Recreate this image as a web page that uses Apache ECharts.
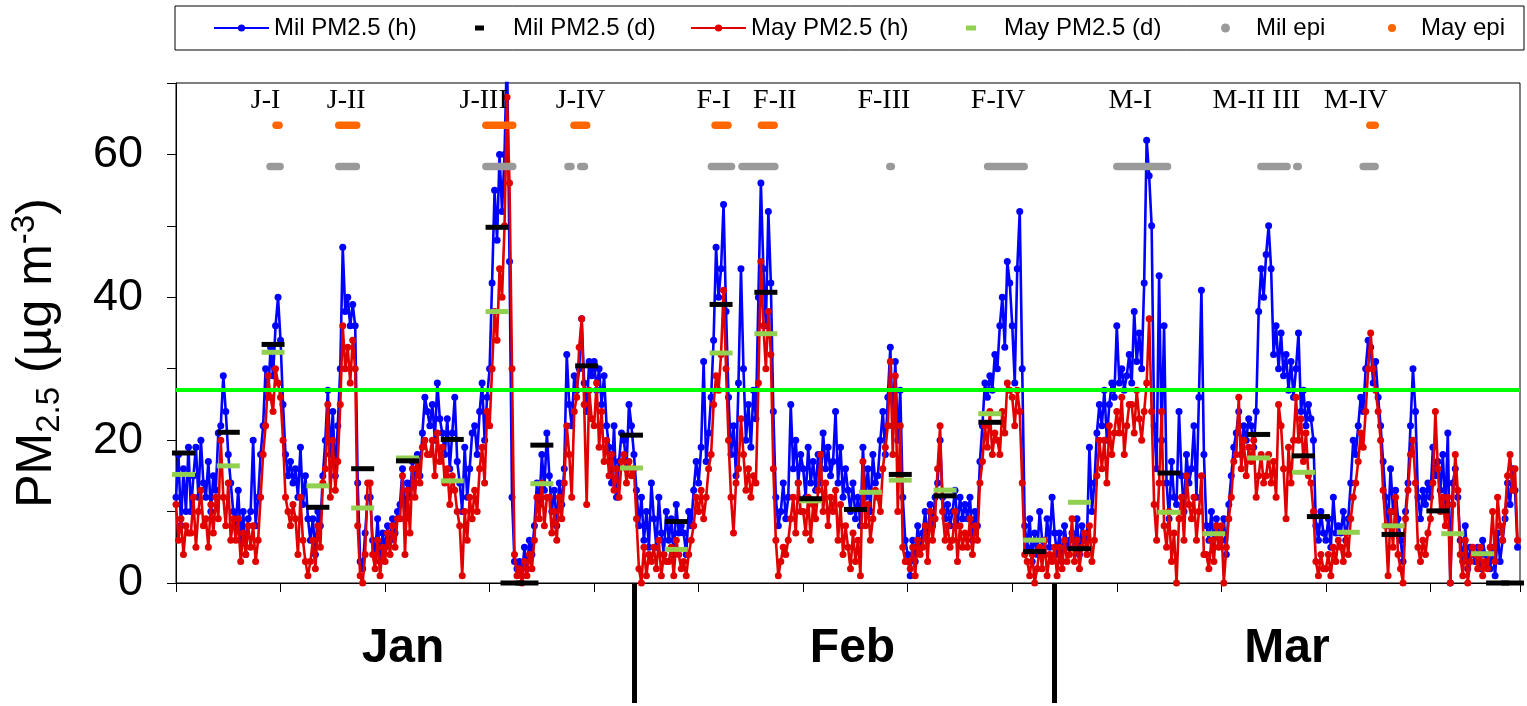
<!DOCTYPE html>
<html>
<head>
<meta charset="utf-8">
<script src="https://cdn.jsdelivr.net/npm/echarts@6/dist/echarts.min.js"></script>
<style>
html,body{margin:0;padding:0;background:#fff}
#chart{width:1527px;height:706px}
</style>
</head>
<body>
<div id="chart"></div>
<script>
// PM2.5 at Milan (Mil) and Maybe site (May), Jan–Mar, sampled every 4 hours (6 values per day)
const SAMPLES_PER_DAY = 6;

const milJan = [
  12,18,8,16,10,19, 10,15,19,12,20,14, 12,17,10,15,13,21, 22,29,24,18,14,10,
  8,13,6,10,4,9, 10,20,8,12,18,22, 30,26,33,29,36,40, 34,25,18,15,17,14,
  16,12,19,11,15,9, 6,9,4,10,8,15, 20,27,18,24,15,22, 30,47,38,40,36,39,
  36,14,3,2,7,12, 12,6,4,9,3,7, 5,8,6,9,7,10, 11,16,9,14,12,17,
  14,18,15,21,26,24, 22,25,20,28,23,21, 18,23,16,21,26,17, 14,10,19,12,16,21,
  22,18,24,28,20,26, 30,42,55,48,60,52, 60,75,45,12,3,2, 3,1,5,2,6,4,
  8,14,11,18,13,21, 15,10,13,8,14,11, 16,32,25,22,29,27, 30,37,28,24,31,29,
  31,27,30,25,29,22, 19,14,22,12,17,21, 20,16,25,22,18,13
];
const milFeb = [
  8,12,6,10,5,14, 9,5,12,7,4,10, 6,9,4,11,7,8, 7,4,10,8,13,17,
  14,19,31,17,21,26, 34,47,40,44,53,38, 26,18,22,15,28,44, 30,20,25,19,27,23,
  40,56,44,36,52,42, 24,12,8,10,14,9, 12,25,16,20,14,18, 16,12,19,14,17,13,
  18,14,21,16,19,15, 17,24,14,19,12,16, 13,10,14,9,12,8, 19,12,16,10,18,14,
  15,20,24,18,26,33, 22,31,20,27,12,6, 4,1,6,3,8,5, 7,10,6,11,8,12,
  14,20,12,9,11,8, 10,13,8,12,9,11, 9,12,6,10,8,17, 22,28,26,29,27,32,
  30,36,40,33,45,42, 36,28,44,52,30,8, 5,9,3,7,4,10, 6,4,9,5,12,7
];
const milMar = [
  4,7,3,8,5,6, 7,5,9,4,8,6, 6,19,10,14,21,25, 22,27,20,25,28,26,
  36,28,30,27,29,32, 28,38,31,35,30,42, 62,57,50,22,16,43, 20,36,14,9,17,12,
  11,24,15,10,18,14, 16,22,12,26,41,18, 8,6,10,5,9,7, 6,9,4,11,15,19,
  21,24,18,22,20,23, 22,19,24,38,44,40, 46,50,44,32,36,30, 35,29,32,27,31,26,
  30,35,24,27,22,25, 23,20,8,6,10,7, 6,9,5,12,7,8, 7,10,6,9,14,20,
  18,22,26,24,30,34, 33,28,31,26,22,17, 12,8,16,10,13,9, 6,3,10,14,22,30,
  24,12,9,13,11,14, 12,19,15,17,13,18, 10,21,0,14,16,12, 6,3,8,2,5,4,
  3,5,2,6,4,3, 2,5,1,7,3,6, 9,14,11,16,13,5
];

const mayJan = [
  11,6,9,4,8,7, 7,12,5,10,13,8, 9,5,11,7,12,9, 20,12,8,14,6,9,
  6,9,3,7,4,8, 5,8,3,6,12,18, 22,29,26,24,30,28, 26,20,12,10,8,11,
  9,4,12,6,3,1, 3,6,2,8,5,14, 16,25,12,20,13,17, 25,36,30,33,28,34,
  30,8,1,0,4,14, 14,4,2,6,1,5, 3,7,4,8,5,9, 9,15,4,13,7,16,
  12,17,14,19,20,18, 18,20,15,21,17,19, 14,16,11,15,13,10, 8,1,10,6,12,9,
  13,10,16,19,14,24, 22,30,38,34,44,40, 50,68,56,30,4,1, 2,0,3,1,4,2,
  6,12,9,14,8,12, 12,7,10,6,12,9, 14,22,18,12,24,26, 33,37,25,11,27,23,
  22,28,19,24,17,20, 15,18,13,16,12,17, 18,14,17,15,16,9
];
const mayFeb = [
  2,0,5,1,4,3, 5,2,6,1,4,3, 3,5,1,6,4,2, 3,1,4,6,8,12,
  10,13,9,12,16,18, 25,29,27,32,41,30, 20,12,7,14,16,23, 18,13,16,12,15,14,
  28,45,36,30,38,32, 16,6,1,3,5,4, 6,9,12,7,14,10, 10,7,12,6,11,9,
  13,18,10,14,8,12, 10,13,6,11,4,8, 5,2,7,3,6,1, 17,8,11,6,9,13,
  12,10,16,19,22,31, 18,29,10,22,5,3, 3,2,5,1,6,4, 5,8,3,10,6,9,
  16,22,10,6,8,5, 6,10,3,8,5,7, 5,9,4,8,6,14, 17,22,19,24,18,21,
  20,18,24,21,28,27, 26,22,27,24,14,4, 3,1,4,0,2,5, 2,6,1,4,3,5
];
const mayMar = [
  1,5,2,6,3,4, 9,3,6,2,5,7, 4,8,3,6,15,20, 16,20,14,22,18,21,
  24,21,26,18,22,25, 25,21,27,23,20,24, 28,37,24,11,6,14, 24,8,5,10,3,7,
  0,9,12,6,15,11, 9,12,6,10,15,4, 4,2,6,3,8,5, 8,0,5,9,12,17,
  18,26,16,20,15,19, 17,20,12,15,18,14, 15,18,14,17,12,25, 22,16,9,19,14,20,
  26,20,23,17,21,15, 14,10,3,1,4,2, 2,4,1,5,3,6, 5,3,7,4,9,12,
  14,17,21,19,24,30, 35,30,27,24,20,13, 8,1,10,5,12,4, 2,0,9,13,18,20,
  14,5,3,6,4,7, 9,14,24,16,10,12, 8,12,0,11,18,13, 4,1,6,0,3,5,
  4,2,5,1,3,2, 5,10,3,12,8,6, 10,15,18,13,16,6
];

// daily means, shown every few days: [day, value]
const milDaily = [
  [0.5,18.2],[3.5,21.1],[6.5,33.4],[9.5,10.6],[12.5,16.0],[15.5,17.1],[18.5,20.1],
  [21.5,49.8],[22.5,0],[23.5,0],[24.5,19.3],[27.5,30.4],[30.5,20.7],[33.5,8.6],
  [36.5,39.0],[39.5,40.7],[42.5,11.8],[45.5,10.3],[48.5,15.2],[51.5,12.2],[54.5,22.5],
  [57.5,4.4],[60.5,4.8],[66.5,15.4],[72.5,20.8],[75.5,17.8],[76.5,9.3],[81.5,6.8],
  [84.5,10.1],[88.5,0],[89.5,0]
];
const mayDaily = [
  [0.5,15.2],[3.5,16.4],[6.5,32.3],[9.5,13.6],[12.5,10.5],[15.5,17.5],[18.5,14.3],
  [21.5,38.0],[24.5,13.9],[30.5,16.1],[33.5,4.7],[36.5,32.2],[39.5,34.9],[42.5,11.5],
  [46.5,12.7],[48.5,14.4],[51.5,13.0],[54.5,23.7],[57.5,6.0],[60.5,11.3],[66.5,9.9],
  [69.5,6.9],[72.5,17.5],[75.5,15.5],[78.5,7.1],[81.5,8.0],[85.5,6.9],[87.5,4.1]
];

// pollution episodes: [start day, end day]
const milEpisodes = [
  [6.3,6.97],[10.9,12.08],[20.75,22.55],[26.25,26.45],[27.1,27.35],[35.85,37.2],
  [37.9,40.1],[47.8,47.9],[54.35,56.8],[63.0,66.4],[72.65,74.4],[75.05,75.15],[79.5,80.3]
];
const mayEpisodes = [
  [6.7,6.9],[10.9,12.1],[20.75,22.55],[26.65,27.5],[36.1,36.96],[39.2,40.05],[79.95,80.3]
];
const MIL_EPI_LEVEL = 58.3;
const MAY_EPI_LEVEL = 64.1;

const episodeNames = ['J-I','J-II','J-III','J-IV','F-I','F-II','F-III','F-IV','M-I','M-II III','M-IV'];
const episodeLabelDays = [6.0,11.4,20.6,27.1,36.0,40.1,47.4,55.05,63.9,72.35,79.0];
const EPISODE_LABEL_LEVEL = 67.6;

const LIMIT_VALUE = 27;

const monthNames = ['Jan','Feb','Mar'];
const monthCenters = [15.2,45.3,74.4];
const monthBreaks = [30.7,58.8];

const yTickLabels = [0,20,40,60];

const toPoints = arr => arr.map((v,i) => [i / SAMPLES_PER_DAY, v]);
const milHourly = toPoints([...milJan, ...milFeb, ...milMar]);
const mayHourly = toPoints([...mayJan, ...mayFeb, ...mayMar]);

const FONT = 'Liberation Sans, Arial, sans-serif';

function episodeSeries(name, episodes, level, color) {
  return {
    name, type: 'custom', z: 6, silent: true,
    itemStyle: { color, opacity: 1 },
    data: episodes.map(e => [e[0], e[1], level]),
    renderItem(params, api) {
      const a = api.coord([api.value(0), api.value(2)]);
      const b = api.coord([api.value(1), api.value(2)]);
      return {
        type: 'line',
        shape: { x1: a[0], y1: a[1], x2: b[0], y2: b[1] },
        style: { stroke: color, lineWidth: 7.5, lineCap: 'round' }
      };
    }
  };
}

function legendItem(name, left, w, h, pad, icon) {
  return {
    data: [icon ? { name, icon } : name], left, top: 14, padding: 0,
    itemWidth: w, itemHeight: h, selectedMode: false,
    textStyle: { fontFamily: FONT, fontSize: 24, color: '#000', lineHeight: 28, padding: [0,0,0,pad] }
  };
}

const chart = echarts.init(document.getElementById('chart'), null, { renderer: 'canvas' });

chart.setOption({
  animation: false,
  backgroundColor: '#fff',
  grid: { left: 175, right: 7, top: 83, bottom: 123, show: true, borderColor: '#000', borderWidth: 1, backgroundColor: 'transparent' },
  legend: [
    legendItem('Mil PM2.5 (h)', 213, 55, 9, 0),
    legendItem('Mil PM2.5 (d)', 475, 9, 5, 24, 'rect'),
    legendItem('May PM2.5 (h)', 690, 55, 9, 0),
    legendItem('May PM2.5 (d)', 966, 10, 5, 23, 'rect'),
    legendItem('Mil epi', 1221, 9, 9, 21, 'circle'),
    legendItem('May epi', 1388, 8, 8, 20, 'circle')
  ],
  graphic: [{
    type: 'rect', silent: true,
    shape: { x: 175, y: 6, width: 1349, height: 44 },
    style: { fill: 'none', stroke: '#000', lineWidth: 1 }
  }],
  xAxis: [{
    type: 'value', min: 0, max: 90, interval: 7,
    axisLine: { show: true, lineStyle: { color: '#000', width: 1 } },
    axisTick: { show: true, length: 9, lineStyle: { color: '#000' } },
    axisLabel: { show: false },
    splitLine: { show: false }
  }, {
    type: 'value', min: 0, max: 90, position: 'bottom',
    axisLine: { show: false },
    splitLine: { show: false },
    axisTick: { show: true, customValues: monthBreaks, length: 120, lineStyle: { color: '#000', width: 5 } },
    axisLabel: {
      show: true, customValues: monthCenters, margin: 42,
      formatter: v => monthNames[monthCenters.indexOf(v)] || '',
      fontFamily: FONT, fontSize: 48, fontWeight: 'bold', color: '#000'
    }
  }],
  yAxis: {
    type: 'value', min: 0, max: 70, interval: 10,
    axisLine: { show: true, lineStyle: { color: '#000', width: 1 } },
    axisTick: { show: true, length: 9, lineStyle: { color: '#000' } },
    splitLine: { show: false },
    axisLabel: {
      margin: 33, fontFamily: FONT, fontSize: 45, color: '#000',
      formatter: v => yTickLabels.includes(v) ? String(v) : ''
    },
    name: '{m|PM}{s|2.5}{m| (µg m}{p|-3}{m|)}',
    nameLocation: 'middle', nameRotate: 90, nameGap: 110,
    nameTextStyle: {
      padding: [0, 40, 0, 0],
      rich: {
        m: { fontFamily: FONT, fontSize: 50, color: '#000', lineHeight: 58 },
        s: { fontFamily: FONT, fontSize: 33, color: '#000', lineHeight: 35, verticalAlign: 'bottom' },
        p: { fontFamily: FONT, fontSize: 33, color: '#000', lineHeight: 35, verticalAlign: 'top' }
      }
    }
  },
  series: [
    {
      name: 'Mil PM2.5 (h)', type: 'line', z: 2, silent: true,
      data: milHourly, showAllSymbol: true, symbol: 'circle', symbolSize: 7,
      itemStyle: { color: '#0000ff' }, lineStyle: { color: '#0000ff', width: 2.6 }
    },
    {
      name: 'May PM2.5 (h)', type: 'line', z: 3, silent: true,
      data: mayHourly, showAllSymbol: true, symbol: 'circle', symbolSize: 7,
      itemStyle: { color: '#e00000' }, lineStyle: { color: '#e00000', width: 2.6 },
      markLine: {
        silent: true, symbol: 'none', label: { show: false },
        lineStyle: { color: '#00ff00', width: 4, type: 'solid', opacity: 1 },
        data: [{ yAxis: LIMIT_VALUE }]
      }
    },
    {
      name: 'May PM2.5 (d)', type: 'scatter', z: 4, silent: true,
      data: mayDaily, symbol: 'rect', symbolSize: [23, 5],
      itemStyle: { color: '#92d050', opacity: 1 }
    },
    {
      name: 'Mil PM2.5 (d)', type: 'scatter', z: 5, silent: true,
      data: milDaily, symbol: 'rect', symbolSize: [23, 5],
      itemStyle: { color: '#000000', opacity: 1 }
    },
    episodeSeries('Mil epi', milEpisodes, MIL_EPI_LEVEL, '#9a9a9a'),
    episodeSeries('May epi', mayEpisodes, MAY_EPI_LEVEL, '#ff6600'),
    {
      name: 'episodes', type: 'scatter', z: 7, silent: true,
      symbolSize: 1, itemStyle: { color: 'rgba(0,0,0,0)' },
      data: episodeNames.map((n, i) => ({ name: n, value: [episodeLabelDays[i], EPISODE_LABEL_LEVEL] })),
      label: {
        show: true, position: 'inside', formatter: '{b}',
        fontFamily: 'Liberation Serif, Times New Roman, serif', fontSize: 28, color: '#000', opacity: 1
      }
    }
  ]
});
</script>
</body>
</html>
